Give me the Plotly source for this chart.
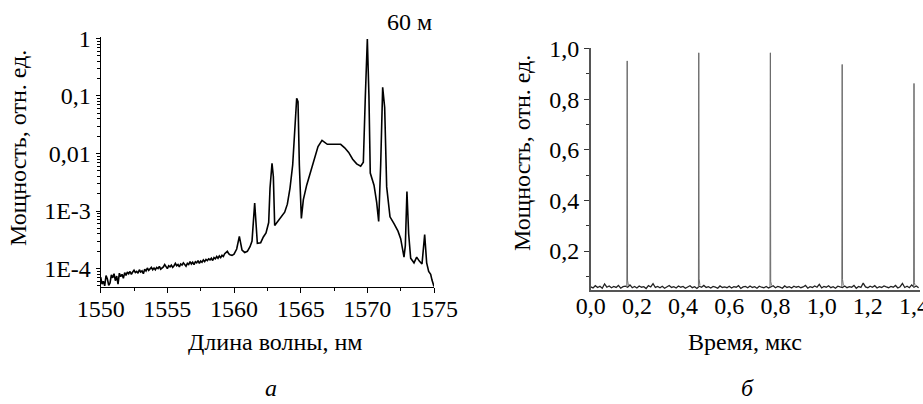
import plotly.graph_objects as go

# ---------- data: panel (a) spectrum ----------
wavelength_nm = [
    1550.0, 1550.1, 1550.2, 1550.3, 1550.4, 1550.5, 1550.6, 1550.7, 1550.8, 1550.9,
    1551.0, 1551.1, 1551.2, 1551.3, 1551.4, 1551.5, 1551.6, 1551.7, 1551.8, 1551.9,
    1552.0, 1552.1, 1552.2, 1552.3, 1552.4, 1552.5, 1552.6, 1552.7, 1552.8, 1552.9,
    1553.0, 1553.1, 1553.2, 1553.3, 1553.4, 1553.5, 1553.6, 1553.7, 1553.8, 1553.9,
    1554.0, 1554.1, 1554.2, 1554.3, 1554.4, 1554.5, 1554.6, 1554.7, 1554.8, 1554.9,
    1555.0, 1555.1, 1555.2, 1555.3, 1555.4, 1555.5, 1555.6, 1555.7, 1555.8, 1555.9,
    1556.0, 1556.1, 1556.2, 1556.3, 1556.4, 1556.5, 1556.6, 1556.7, 1556.8, 1556.9,
    1557.0, 1557.1, 1557.2, 1557.3, 1557.4, 1557.5, 1557.6, 1557.7, 1557.8, 1557.9,
    1558.0, 1558.1, 1558.2, 1558.3, 1558.4, 1558.5, 1558.6, 1558.7, 1558.8, 1558.9,
    1559.0, 1559.1, 1559.2, 1559.3, 1559.4, 1559.5, 1559.6, 1559.7, 1559.85,
    1560.0, 1560.2, 1560.4, 1560.6, 1560.8, 1561.0, 1561.2, 1561.35, 1561.55, 1561.75,
    1562.0, 1562.2, 1562.4, 1562.6, 1562.7, 1562.85, 1562.95, 1563.05, 1563.2, 1563.5,
    1563.8, 1564.0, 1564.2, 1564.4, 1564.55, 1564.7, 1564.8, 1564.9, 1565.05, 1565.2,
    1565.45, 1565.7, 1566.0, 1566.3, 1566.6, 1566.8, 1567.0, 1567.5, 1568.0, 1568.3,
    1568.6, 1568.9, 1569.2, 1569.5, 1569.7, 1569.85, 1570.0, 1570.12, 1570.22, 1570.5,
    1570.7, 1570.85, 1571.0, 1571.15, 1571.3, 1571.45, 1571.7, 1572.0, 1572.3, 1572.5,
    1572.75, 1572.85, 1572.97, 1573.1, 1573.25, 1573.5, 1573.7, 1573.9, 1574.1, 1574.3,
    1574.45, 1574.6, 1574.75, 1574.85, 1575.0,
]
spectrum_log10 = [
    -4.15, -4.27, -4.22, -4.30, -4.12, -4.18, -4.29, -4.25, -4.11, -4.16,
    -4.09, -4.21, -4.13, -4.27, -4.08, -4.14, -4.10, -4.17, -4.07, -4.12,
    -4.06, -4.09, -4.05, -4.10, -4.06, -4.03, -4.07, -4.05, -4.08, -4.02,
    -4.06, -4.04, -4.09, -4.01, -4.04, -3.99, -4.03, -4.01, -3.98, -4.02,
    -3.99, -4.02, -3.98, -4.00, -3.96, -4.01, -3.99, -3.97, -3.93, -3.98,
    -4.00, -3.95, -3.97, -3.94, -3.98, -3.95, -3.91, -3.95, -3.93, -3.97,
    -3.92, -3.94, -3.90, -3.93, -3.96, -3.91, -3.93, -3.88, -3.92, -3.89,
    -3.93, -3.88, -3.90, -3.86, -3.91, -3.87, -3.89, -3.85, -3.88, -3.84,
    -3.86, -3.83, -3.85, -3.82, -3.86, -3.81, -3.83, -3.79, -3.82, -3.78,
    -3.81, -3.77, -3.79, -3.74, -3.72, -3.70, -3.74, -3.76, -3.77,
    -3.75, -3.66, -3.44, -3.68, -3.72, -3.70, -3.62, -3.52, -2.86, -3.56,
    -3.55, -3.45, -3.38, -3.20, -2.60, -2.17, -2.40, -3.25, -3.20, -3.10,
    -3.02, -2.88, -2.60, -2.20, -1.65, -1.04, -1.10, -2.20, -3.13, -2.80,
    -2.55, -2.35, -2.10, -1.88, -1.77, -1.80, -1.84, -1.84, -1.84, -1.90,
    -1.98, -2.10, -2.18, -2.22, -2.15, -1.00, -0.01, -1.00, -2.34, -2.55,
    -2.85, -3.18, -2.20, -0.85, -1.20, -2.58, -3.10, -3.22, -3.35, -3.48,
    -3.80, -3.60, -2.66, -3.40, -3.82, -3.90, -3.80, -3.87, -3.92, -3.41,
    -3.90, -4.05, -4.10, -4.20, -4.31,
]
spectrum_power = [10 ** v for v in spectrum_log10]

wl_ticks = [1550, 1555, 1560, 1565, 1570, 1575]
wl_minor = [1552.5, 1557.5, 1562.5, 1567.5, 1572.5]
pw_ticks = [1e-4, 1e-3, 1e-2, 1e-1, 1]
pw_ticktext = ["1E-4", "1E-3", "0,01", "0,1", "1"]

# ---------- data: panel (b) pulse train ----------
time_us = [
    0.00, 0.01, 0.02, 0.03, 0.04, 0.05, 0.06, 0.07, 0.08, 0.09,
    0.10, 0.11, 0.12, 0.13, 0.14, 0.15, 0.16, 0.17, 0.18, 0.19,
    0.20, 0.21, 0.22, 0.23, 0.24, 0.25, 0.26, 0.27, 0.28, 0.29,
    0.30, 0.31, 0.32, 0.33, 0.34, 0.35, 0.36, 0.37, 0.38, 0.39,
    0.40, 0.41, 0.42, 0.43, 0.44, 0.45, 0.46, 0.47, 0.48, 0.49,
    0.50, 0.51, 0.52, 0.53, 0.54, 0.55, 0.56, 0.57, 0.58, 0.59,
    0.60, 0.61, 0.62, 0.63, 0.64, 0.65, 0.66, 0.67, 0.68, 0.69,
    0.70, 0.71, 0.72, 0.73, 0.74, 0.75, 0.76, 0.77, 0.78, 0.79,
    0.80, 0.81, 0.82, 0.83, 0.84, 0.85, 0.86, 0.87, 0.88, 0.89,
    0.90, 0.91, 0.92, 0.93, 0.94, 0.95, 0.96, 0.97, 0.98, 0.99,
    1.00, 1.01, 1.02, 1.03, 1.04, 1.05, 1.06, 1.07, 1.08, 1.09,
    1.10, 1.11, 1.12, 1.13, 1.14, 1.15, 1.16, 1.17, 1.18, 1.19,
    1.20, 1.21, 1.22, 1.23, 1.24, 1.25, 1.26, 1.27, 1.28, 1.29,
    1.30, 1.31, 1.32, 1.33, 1.34, 1.35, 1.36, 1.37, 1.38, 1.39,
    1.40, 1.41, 1.42,
]
baseline_power = [
    0.058, 0.054, 0.063, 0.056, 0.061, 0.053, 0.070, 0.057, 0.062, 0.055,
    0.060, 0.056, 0.064, 0.053, 0.059, 0.061, 0.057, 0.066, 0.055, 0.060,
    0.054, 0.062, 0.057, 0.059, 0.052, 0.063, 0.058, 0.071, 0.056, 0.060,
    0.055, 0.061, 0.053, 0.058, 0.064, 0.056, 0.059, 0.054, 0.062, 0.057,
    0.060, 0.053, 0.058, 0.063, 0.055, 0.059, 0.052, 0.061, 0.057, 0.064,
    0.056, 0.059, 0.054, 0.060, 0.057, 0.053, 0.062, 0.056, 0.058, 0.055,
    0.061, 0.054, 0.059, 0.057, 0.063, 0.052, 0.058, 0.060, 0.055, 0.062,
    0.056, 0.059, 0.053, 0.061, 0.057, 0.055, 0.060, 0.054, 0.058, 0.063,
    0.055, 0.060, 0.057, 0.053, 0.062, 0.056, 0.059, 0.054, 0.061, 0.057,
    0.060, 0.055, 0.058, 0.064, 0.053, 0.059, 0.056, 0.062, 0.057, 0.068,
    0.054, 0.060, 0.057, 0.063, 0.055, 0.059, 0.053, 0.061, 0.058, 0.056,
    0.062, 0.055, 0.059, 0.057, 0.064, 0.053, 0.060, 0.056, 0.073, 0.058,
    0.055, 0.061, 0.057, 0.063, 0.054, 0.059, 0.056, 0.062, 0.058, 0.055,
    0.060, 0.057, 0.064, 0.054, 0.059, 0.072, 0.056, 0.061, 0.055, 0.066,
    0.057, 0.062, 0.055,
]
pulse_time_us = [0.158, 0.468, 0.778, 1.089, 1.400]
pulse_peak = [0.951, 0.983, 0.983, 0.937, 0.862]
pulse_tail = [0.085, 0.090, 0.080, 0.088, 0.075]

time_ticks = [0.0, 0.2, 0.4, 0.6, 0.8, 1.0, 1.2, 1.4]
time_ticktext = ["0,0", "0,2", "0,4", "0,6", "0,8", "1,0", "1,2", "1,4"]
p_ticks = [0.2, 0.4, 0.6, 0.8, 1.0]
p_ticktext = ["0,2", "0,4", "0,6", "0,8", "1,0"]
p_minor = [0.1, 0.3, 0.5, 0.7, 0.9]

# pulse segments (gaps between pulses)
pulse_x, pulse_y = [], []
for t, pk, tl in zip(pulse_time_us, pulse_peak, pulse_tail):
    pulse_x += [t - 0.0015, t, t + 0.0015, t + 0.005, None]
    pulse_y += [0.058, pk, tl, 0.064, None]

# ---------- figure ----------
W, H = 923, 404
FONT = "'Liberation Serif', 'DejaVu Serif', serif"

fig = go.Figure()
fig.add_trace(go.Scatter(x=wavelength_nm, y=spectrum_power, mode="lines",
                         line=dict(color="black", width=1.6), xaxis="x", yaxis="y",
                         showlegend=False, hoverinfo="skip"))
fig.add_trace(go.Scatter(x=time_us, y=baseline_power, mode="lines",
                         line=dict(color="#222222", width=1.3), xaxis="x2", yaxis="y2",
                         showlegend=False, hoverinfo="skip"))
fig.add_trace(go.Scatter(x=pulse_x, y=pulse_y, mode="lines", connectgaps=False,
                         line=dict(color="#6a6a6a", width=1), xaxis="x2", yaxis="y2",
                         showlegend=False, hoverinfo="skip"))

def px(x):
    return x / W

def py(y):
    return 1 - y / H

minor_log = [m * 10 ** d for d in range(-5, 1) for m in range(2, 10)]

tickfont = dict(family=FONT, size=24, color="black")

fig.update_layout(
    width=W, height=H,
    margin=dict(l=0, r=0, t=0, b=0, autoexpand=False),
    paper_bgcolor="white", plot_bgcolor="white",
    font=dict(family=FONT, color="black"),
    xaxis=dict(domain=[px(100.7), px(434)], range=[1550, 1575], automargin=False,
               tickvals=wl_ticks, ticks="outside", ticklen=5, tickwidth=1,
               tickcolor="black", showline=True, linecolor="black", linewidth=1.2,
               showgrid=False, zeroline=False, tickfont=tickfont,
               ticklabelstandoff=-5, ticklabeloverflow="allow",
               minor=dict(tickmode="array", tickvals=wl_minor,
                          ticks="outside", ticklen=3, tickcolor="black", showgrid=False),
               anchor="y"),
    yaxis=dict(domain=[py(287), py(37.3)], type="log", range=[-4.32, 0.02], automargin=False,
               tickvals=pw_ticks, ticktext=pw_ticktext, ticks="outside", ticklen=4,
               tickcolor="black", showline=True, linecolor="black", linewidth=1.2,
               showgrid=False, zeroline=False, tickfont=tickfont,
               ticklabeloverflow="allow",
               minor=dict(tickmode="array", tickvals=minor_log, ticks="outside",
                          ticklen=2.5, tickcolor="black", showgrid=False),
               anchor="x"),
    xaxis2=dict(domain=[px(590.7), px(920)], range=[0, 1.426], automargin=False,
                tickvals=time_ticks, ticktext=time_ticktext, ticks="",
                showline=True, linecolor="#555", linewidth=1.5,
                showgrid=False, zeroline=False, tickfont=tickfont,
                ticklabelstandoff=-7, ticklabeloverflow="allow", anchor="y2"),
    yaxis2=dict(domain=[py(290), py(48)], range=[0.046, 1.002], automargin=False,
                tickvals=p_ticks, ticktext=p_ticktext, ticks="outside", ticklen=5,
                tickcolor="#333", showline=True, linecolor="#555", linewidth=1.5,
                showgrid=False, zeroline=False, tickfont=tickfont,
                ticklabeloverflow="allow",
                minor=dict(tickmode="array", tickvals=p_minor, ticks="outside",
                           ticklen=3, tickcolor="#333", showgrid=False),
                anchor="x2"),
)

def label(text, x, y, size=24, angle=0, italic=False, yanchor="middle"):
    fig.add_annotation(text=text, x=px(x), y=py(y), xref="paper", yref="paper",
                       showarrow=False, textangle=angle, xanchor="center", yanchor=yanchor,
                       font=dict(family=FONT, size=size, color="black",
                                 style="italic" if italic else "normal"))

label("Длина волны, нм", 275, 342)
label("Мощность, отн. ед.", 18, 148, angle=-90)
label("Время, мкс", 745, 342)
label("Мощность, отн. ед.", 522, 153, angle=-90)
label("60 м", 409, 22)
label("а", 271, 403, italic=True, yanchor="bottom")
label("б", 747, 403, italic=True, yanchor="bottom")

fig.write_html("out.html", config={"displayModeBar": False},
               post_script="document.body.style.margin='0';document.body.style.overflow='hidden';")
